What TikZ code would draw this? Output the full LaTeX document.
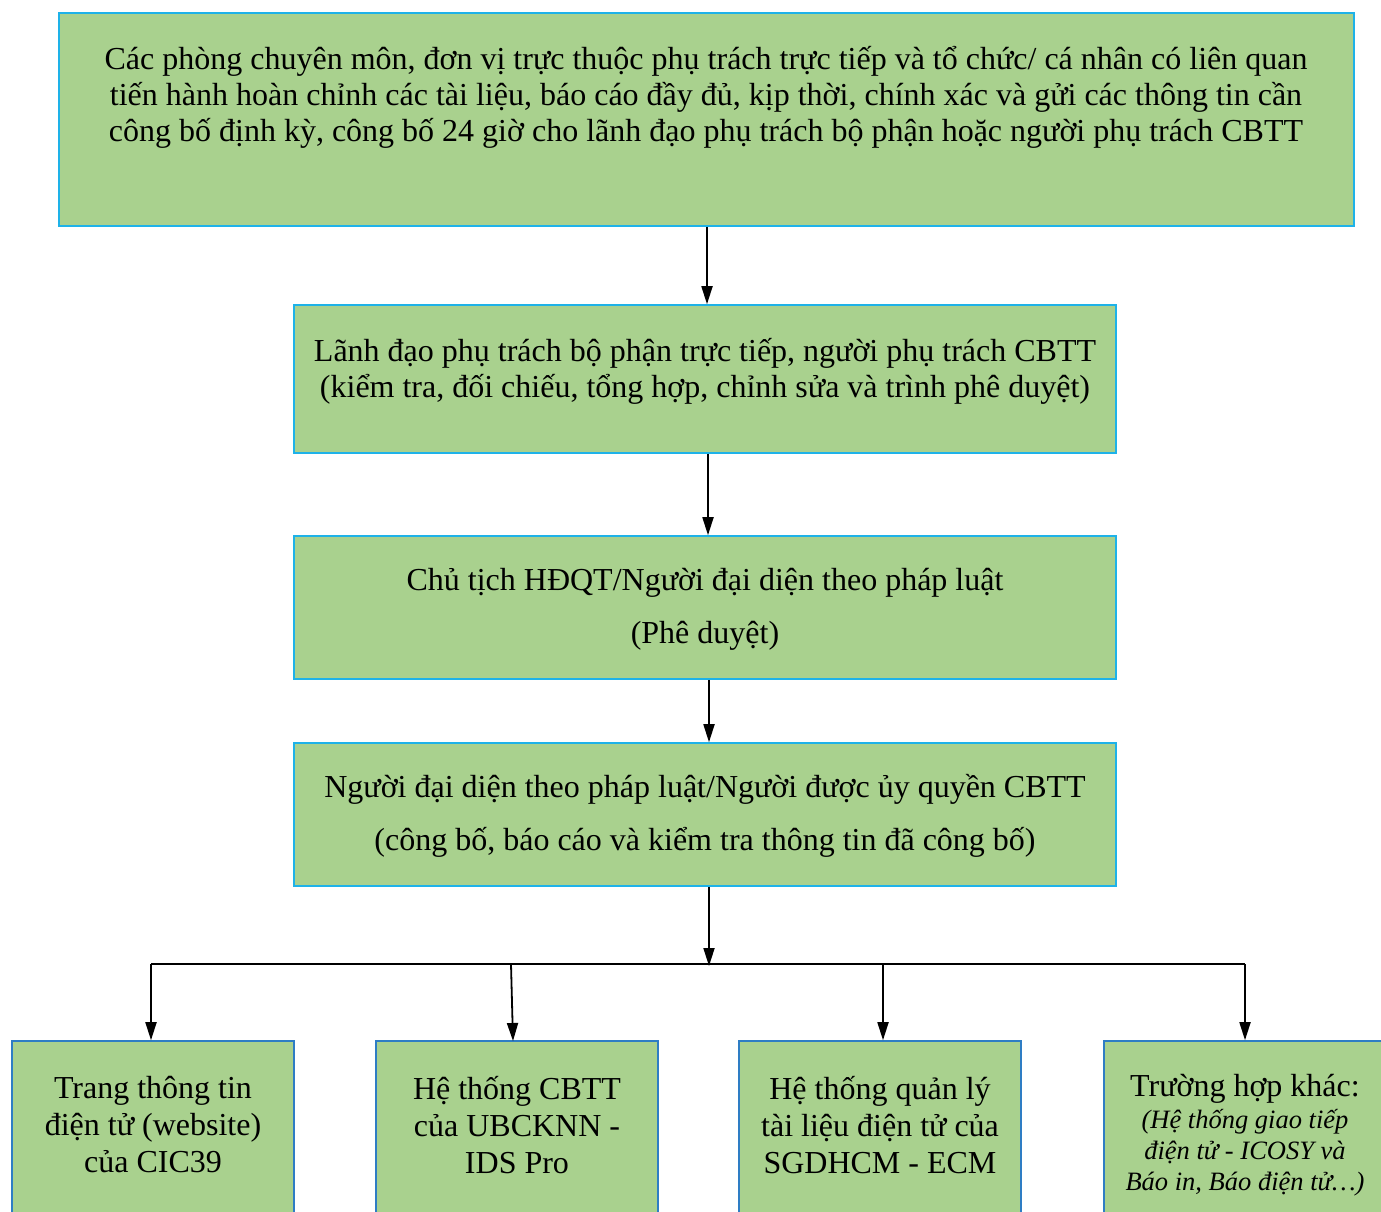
\documentclass[tikz,border=0pt]{standalone}
\usepackage{fontspec}
\setmainfont{Liberation Serif}
\usetikzlibrary{arrows.meta}
\definecolor{boxgreen}{RGB}{169,209,142}
\definecolor{topblue}{RGB}{30,178,232}
\definecolor{botblue}{RGB}{46,125,196}
\tikzset{
  flowbox/.style={draw=topblue, line width=1.6pt, fill=boxgreen, rectangle, inner sep=0pt},
  leafbox/.style={draw=botblue, line width=1.6pt, fill=boxgreen, rectangle, inner sep=0pt},
  boxtext/.style={align=center, inner sep=0pt, font=\fontsize{32}{36}\selectfont},
  conn/.style={line width=1.8pt, -{Triangle[length=18pt,width=11pt]}},
  bar/.style={line width=2.4pt}
}
\begin{document}
\begin{tikzpicture}[x=1pt,y=-1pt]
\clip (0,0) rectangle (1381,1211);
\fill[white] (0,0) rectangle (1381,1211);
% main boxes
\node[flowbox, minimum width=1295pt, minimum height=213pt] (top) at (706.5,119.5) {};
\node[flowbox, minimum width=822pt, minimum height=148pt] (b2) at (705,379) {};
\node[flowbox, minimum width=822pt, minimum height=143pt] (b3) at (705,607.5) {};
\node[flowbox, minimum width=822pt, minimum height=143pt] (b4) at (705,814.5) {};
% leaf boxes
\node[leafbox, minimum width=282pt, minimum height=200pt] (o1) at (153,1141) {};
\node[leafbox, minimum width=282pt, minimum height=200pt] (o2) at (517,1141) {};
\node[leafbox, minimum width=282pt, minimum height=200pt] (o3) at (880,1141) {};
\node[leafbox, minimum width=282pt, minimum height=200pt] (o4) at (1245,1141) {};
% texts
\node[boxtext] (ttop) at (706,97) {Các phòng chuyên môn, đơn vị trực thuộc phụ trách trực tiếp và tổ chức/ cá nhân có liên quan\\tiến hành hoàn chỉnh các tài liệu, báo cáo đầy đủ, kịp thời, chính xác và gửi các thông tin cần\\công bố định kỳ, công bố 24 giờ cho lãnh đạo phụ trách bộ phận hoặc người phụ trách CBTT};
\node[boxtext] (t2) at (705,371) {Lãnh đạo phụ trách bộ phận trực tiếp, người phụ trách CBTT\\(kiểm tra, đối chiếu, tổng hợp, chỉnh sửa và trình phê duyệt)};
\node[boxtext, font=\fontsize{32}{53}\selectfont] (t3) at (705,609) {Chủ tịch HĐQT/Người đại diện theo pháp luật\\(Phê duyệt)};
\node[boxtext, font=\fontsize{32}{53}\selectfont] (t4) at (705,816) {Người đại diện theo pháp luật/Người được ủy quyền CBTT\\(công bố, báo cáo và kiểm tra thông tin đã công bố)};
\node[boxtext, font=\fontsize{32}{37}\selectfont] (t5) at (153,1125) {Trang thông tin\\điện tử (website)\\của CIC39};
\node[boxtext, font=\fontsize{32}{37}\selectfont] (t6) at (517,1125) {Hệ thống CBTT\\của UBCKNN -\\IDS Pro};
\node[boxtext, font=\fontsize{32}{37}\selectfont] (t7) at (880,1125) {Hệ thống quản lý\\tài liệu điện tử của\\SGDHCM - ECM};
\node[boxtext] (t8a) at (1245,1089) {Trường hợp khác:};
\node[boxtext, font=\fontsize{26.5}{31}\selectfont\itshape] (t8b) at (1245,1153) {(Hệ thống giao tiếp\\điện tử - ICOSY và\\Báo in, Báo điện tử…)};
% connectors
\coordinate (j) at (709,966);
\coordinate (h1) at (151,964);
\coordinate (h2) at (511,964);
\coordinate (h3) at (883,964);
\coordinate (h4) at (1245,964);
\draw[conn] (top.south -| 707,0) -- (b2.north -| 707,0);
\draw[conn] (b2.south -| 708,0) -- (b3.north -| 708,0);
\draw[conn] (b3.south -| 709,0) -- (b4.north -| 709,0);
\draw[bar] (h1) -- (h4);
\draw[conn] (b4.south -| j) -- (j);
\draw[conn] (h1) -- (h1 |- o1.north);
\draw[conn] (h2) -- (513,1041);
\draw[conn] (h3) -- (h3 |- o3.north);
\draw[conn] (h4) -- (h4 |- o4.north);
\end{tikzpicture}
\end{document}
